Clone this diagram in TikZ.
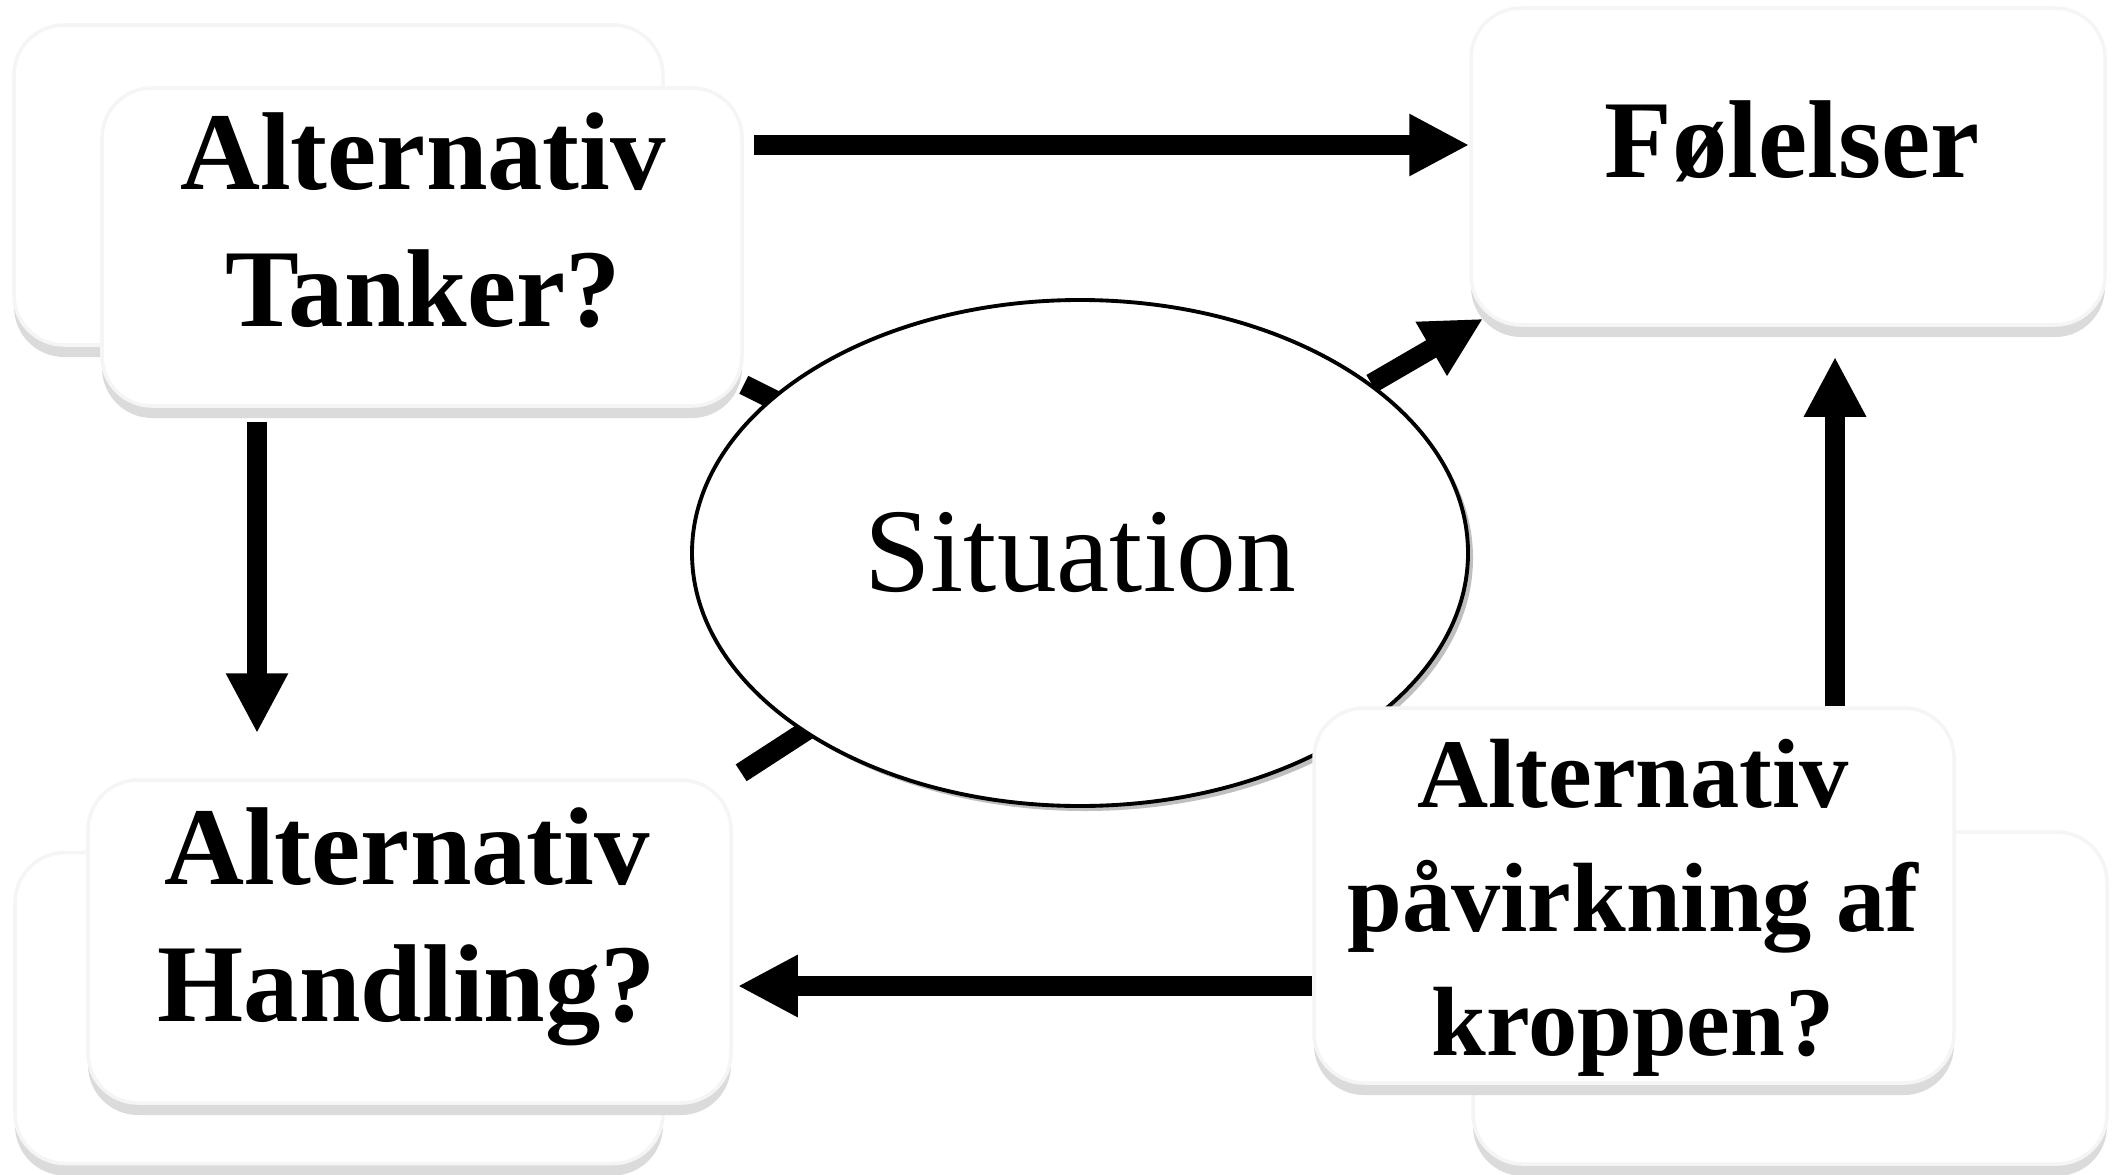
\documentclass[tikz,border=0pt]{standalone}
\usepackage{fontspec}
\setmainfont{Liberation Serif}
\usetikzlibrary{arrows.meta,shapes.geometric,shadows,backgrounds}

\begin{document}
\begin{tikzpicture}[
    box/.style={draw=black!4, line width=1pt, fill=white, rounded corners=0.5cm,
        drop shadow={shadow xshift=0cm, shadow yshift=-0.12cm, fill=black!14, opacity=1}},
    txt/.style={font=\bfseries\fontsize{31.5}{39}\selectfont, align=center},
    arr/.style={line width=0.2cm, -{Triangle[width=0.58cm,length=0.6cm]}},
    spoke/.style={line width=0.2cm}
]
\useasboundingbox (0,0) rectangle (21.23,11.74);

% boxes behind
\foreach \n/\x/\y/\w/\h in {bTL/3.385/9.89/6.49/3.20, bBL/3.39/1.66/6.48/3.11, bBR/17.90/1.76/6.34/3.32}{
    \node[box, minimum width=\w cm, minimum height=\h cm] (\n) at (\x,\y) {};
}

\node[ellipse, draw, line width=1.1pt, fill=white, minimum width=7.76cm, minimum height=5.06cm, inner sep=0pt,
    drop shadow={shadow xshift=0.05cm, shadow yshift=-0.05cm, fill=black!25, opacity=1},
    font=\fontsize{34}{40}\selectfont] (sit) at (10.80,6.21) {Situation};

\node[box, minimum width=6.40cm, minimum height=3.18cm] (tank) at (4.22,9.27) {};
\node[box, minimum width=6.34cm, minimum height=3.17cm] (fol) at (17.88,10.075) {};
\node[box, minimum width=6.43cm, minimum height=3.23cm] (hand) at (4.095,2.325) {};
\node[box, minimum width=6.40cm, minimum height=3.75cm] (krop) at (16.34,2.785) {};

\node[txt] (tankT) at (4.23,9.54) {Alternativ\\Tanker?};
\node[txt] (folT) at (17.92,10.33) {Følelser};
\node[txt] (handT) at (4.07,2.47) {Alternativ\\Handling?};
\node[txt, font=\bfseries\fontsize{28}{35.2}\selectfont] (kropT) at (16.33,2.66) {Alternativ\\påvirkning af\\kroppen?};

% lines running under the ellipse
\begin{scope}[on background layer]
\draw[spoke] (sit.center) -- ([yshift=0.23cm]tank.south east);
\draw[spoke, shorten >=0.1cm] (sit.center) -- (hand.north east);
\draw[arr, shorten >=-0.16cm] (sit) -- (fol.south west);
\end{scope}

\draw[arr, shorten <=0.1cm] ([yshift=1.02cm]tank.east) -- ([yshift=1.02cm]tank.east -| fol.west);
\draw[arr, shorten <=0.14cm, shorten >=0.45cm] ([xshift=-1.65cm]tank.south) -- ([xshift=-1.65cm]tank.south |- hand.north);
\draw[arr, shorten >=0.3cm] ([xshift=0.47cm]fol.south |- krop.north) -- ([xshift=0.47cm]fol.south);
\draw[arr, shorten >=0.05cm] ([yshift=-0.445cm]hand.east -| krop.west) -- ([yshift=-0.445cm]hand.east);

\end{tikzpicture}
\end{document}
